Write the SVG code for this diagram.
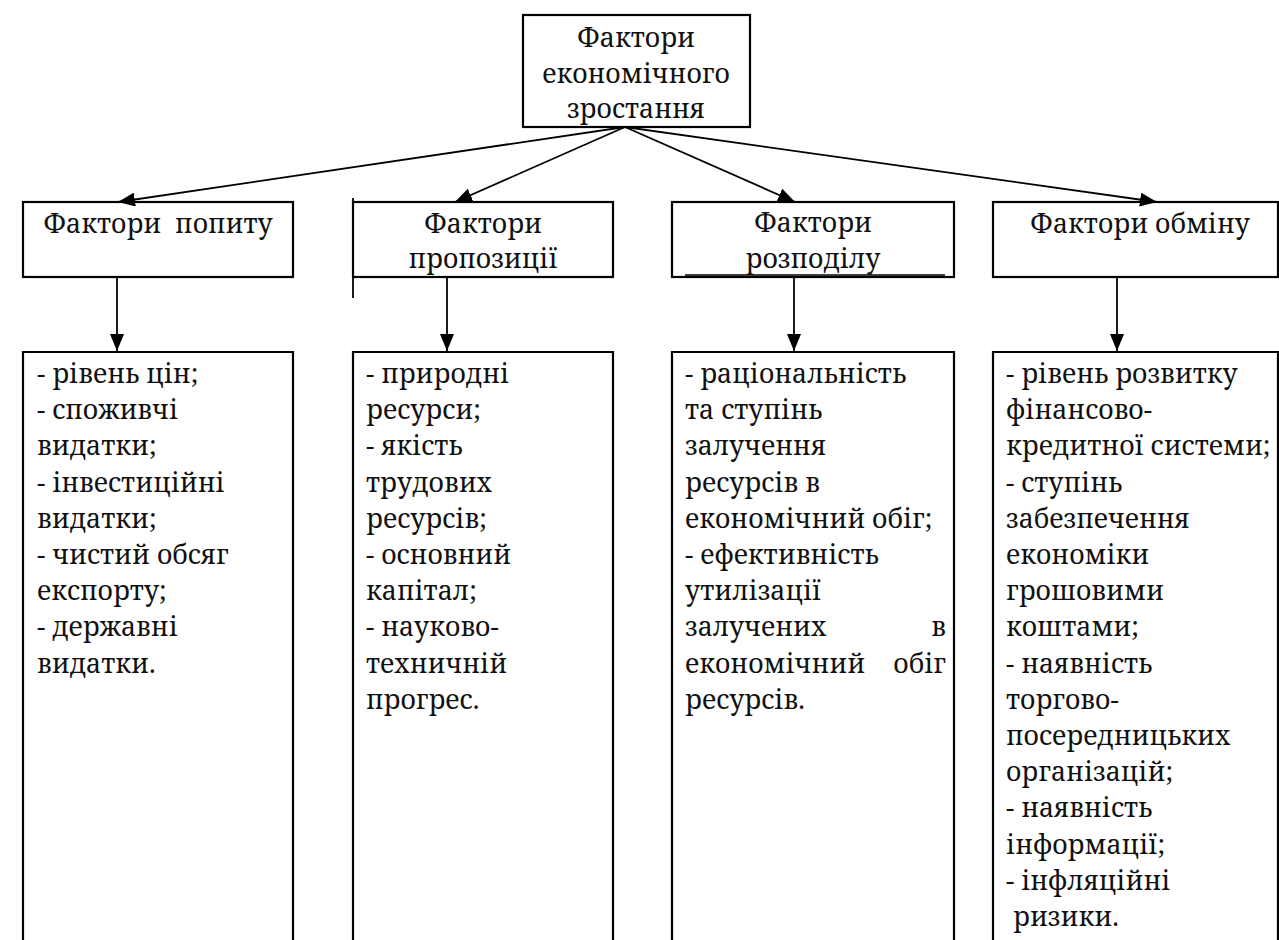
<svg xmlns="http://www.w3.org/2000/svg" width="1279" height="940" viewBox="0 0 1279 940">
<defs>
<style>
.box{fill:none;stroke:#000;stroke-width:2.2}
.ln{fill:none;stroke:#000;stroke-width:1.8}
.t{font-family:'Noto Serif','DejaVu Serif',serif;font-size:28px;fill:#111}
.c{text-anchor:middle}
.e{text-anchor:end}
</style>
<marker id="ah" markerUnits="userSpaceOnUse" markerWidth="18" markerHeight="14" refX="17" refY="7" orient="auto">
<path d="M0,0 L17,7 L0,14 z" fill="#000"/>
</marker>
</defs>
<rect width="1279" height="940" fill="#fff"/>

<g id="connectors">
<line class="ln" x1="625" y1="127" x2="118" y2="202" marker-end="url(#ah)"/>
<line class="ln" x1="625" y1="127" x2="455" y2="202" marker-end="url(#ah)"/>
<line class="ln" x1="625" y1="127" x2="795" y2="202" marker-end="url(#ah)"/>
<line class="ln" x1="625" y1="127" x2="1157" y2="202" marker-end="url(#ah)"/>
<line class="ln" x1="117" y1="277" x2="117" y2="351" marker-end="url(#ah)"/>
<line class="ln" x1="447" y1="277" x2="447" y2="351" marker-end="url(#ah)"/>
<line class="ln" x1="794" y1="277" x2="794" y2="351" marker-end="url(#ah)"/>
<line class="ln" x1="1117" y1="277" x2="1117" y2="351" marker-end="url(#ah)"/>
</g>

<g id="root">
<rect class="box" x="523" y="15" width="227" height="112"/>
<g class="t c" transform="translate(636,0) scale(0.95,1)">
<text x="0" y="47">Фактори</text>
<text x="0" y="83">економічного</text>
<text x="0" y="118">зростання</text>
</g>
</g>

<g id="demand">
<rect class="box" x="23" y="202" width="270" height="75"/>
<g class="t c" transform="translate(158,0) scale(0.95,1)">
<text x="0" y="233" xml:space="preserve">Фактори  попиту</text>
</g>
</g>

<g id="supply">
<rect class="box" x="353" y="202" width="260" height="75"/>
<line class="ln" x1="353" y1="198" x2="353" y2="298"/>
<g class="t c" transform="translate(483,0) scale(0.95,1)">
<text x="0" y="233">Фактори</text>
<text x="0" y="268">пропозиції</text>
</g>
</g>

<g id="distribution">
<rect class="box" x="672" y="202" width="282" height="75"/>
<line x1="685" y1="275" x2="945" y2="275" stroke="#000" stroke-width="1.5"/>
<g class="t c" transform="translate(813,0) scale(0.95,1)">
<text x="0" y="232">Фактори</text>
<text x="0" y="268">розподілу</text>
</g>
</g>

<g id="exchange">
<rect class="box" x="993" y="202" width="285" height="75"/>
<g class="t c" transform="translate(1140,0) scale(0.95,1)">
<text x="0" y="233">Фактори обміну</text>
</g>
</g>

<g id="demand-list">
<path class="box" d="M23,960 V352 H293 V960"/>
<g class="t" transform="translate(37,0) scale(0.95,1)">
<text x="0" y="383">- рівень цін;</text>
<text x="0" y="419.2">- споживчі</text>
<text x="0" y="455.4">видатки;</text>
<text x="0" y="491.6">- інвестиційні</text>
<text x="0" y="527.8">видатки;</text>
<text x="0" y="564">- чистий обсяг</text>
<text x="0" y="600.2">експорту;</text>
<text x="0" y="636.4">- державні</text>
<text x="0" y="672.6">видатки.</text>
</g>
</g>

<g id="supply-list">
<path class="box" d="M353,960 V352 H613 V960"/>
<g class="t" transform="translate(366,0) scale(0.95,1)">
<text x="0" y="383">- природні</text>
<text x="0" y="419.2">ресурси;</text>
<text x="0" y="455.4">- якість</text>
<text x="0" y="491.6">трудових</text>
<text x="0" y="527.8">ресурсів;</text>
<text x="0" y="564">- основний</text>
<text x="0" y="600.2">капітал;</text>
<text x="0" y="636.4">- науково-</text>
<text x="0" y="672.6">техничній</text>
<text x="0" y="708.8">прогрес.</text>
</g>
</g>

<g id="distribution-list">
<path class="box" d="M672,960 V352 H954 V960"/>
<g class="t" transform="translate(685,0) scale(0.95,1)">
<text x="0" y="383">- раціональність</text>
<text x="0" y="419.2">та ступінь</text>
<text x="0" y="455.4">залучення</text>
<text x="0" y="491.6">ресурсів в</text>
<text x="0" y="527.8">економічний обіг;</text>
<text x="0" y="564">- ефективність</text>
<text x="0" y="600.2">утилізації</text>
<text x="0" y="636.4">залучених</text>
<text class="e" x="274.7" y="636.4">в</text>
<text x="0" y="672.6">економічний</text>
<text class="e" x="274.7" y="672.6">обіг</text>
<text x="0" y="708.8">ресурсів.</text>
</g>
</g>

<g id="exchange-list">
<path class="box" d="M993,960 V352 H1278 V960"/>
<g class="t" transform="translate(1006,0) scale(0.95,1)">
<text x="0" y="383">- рівень розвитку</text>
<text x="0" y="419.2">фінансово-</text>
<text x="0" y="455.4">кредитної системи;</text>
<text x="0" y="491.6">- ступінь</text>
<text x="0" y="527.8">забезпечення</text>
<text x="0" y="564">економіки</text>
<text x="0" y="600.2">грошовими</text>
<text x="0" y="636.4">коштами;</text>
<text x="0" y="672.6">- наявність</text>
<text x="0" y="708.8">торгово-</text>
<text x="0" y="745">посередницьких</text>
<text x="0" y="781.2">організацій;</text>
<text x="0" y="817.4">- наявність</text>
<text x="0" y="853.6">інформації;</text>
<text x="0" y="889.8">- інфляційні</text>
<text x="7.4" y="926">ризики.</text>
</g>
</g>
</svg>
